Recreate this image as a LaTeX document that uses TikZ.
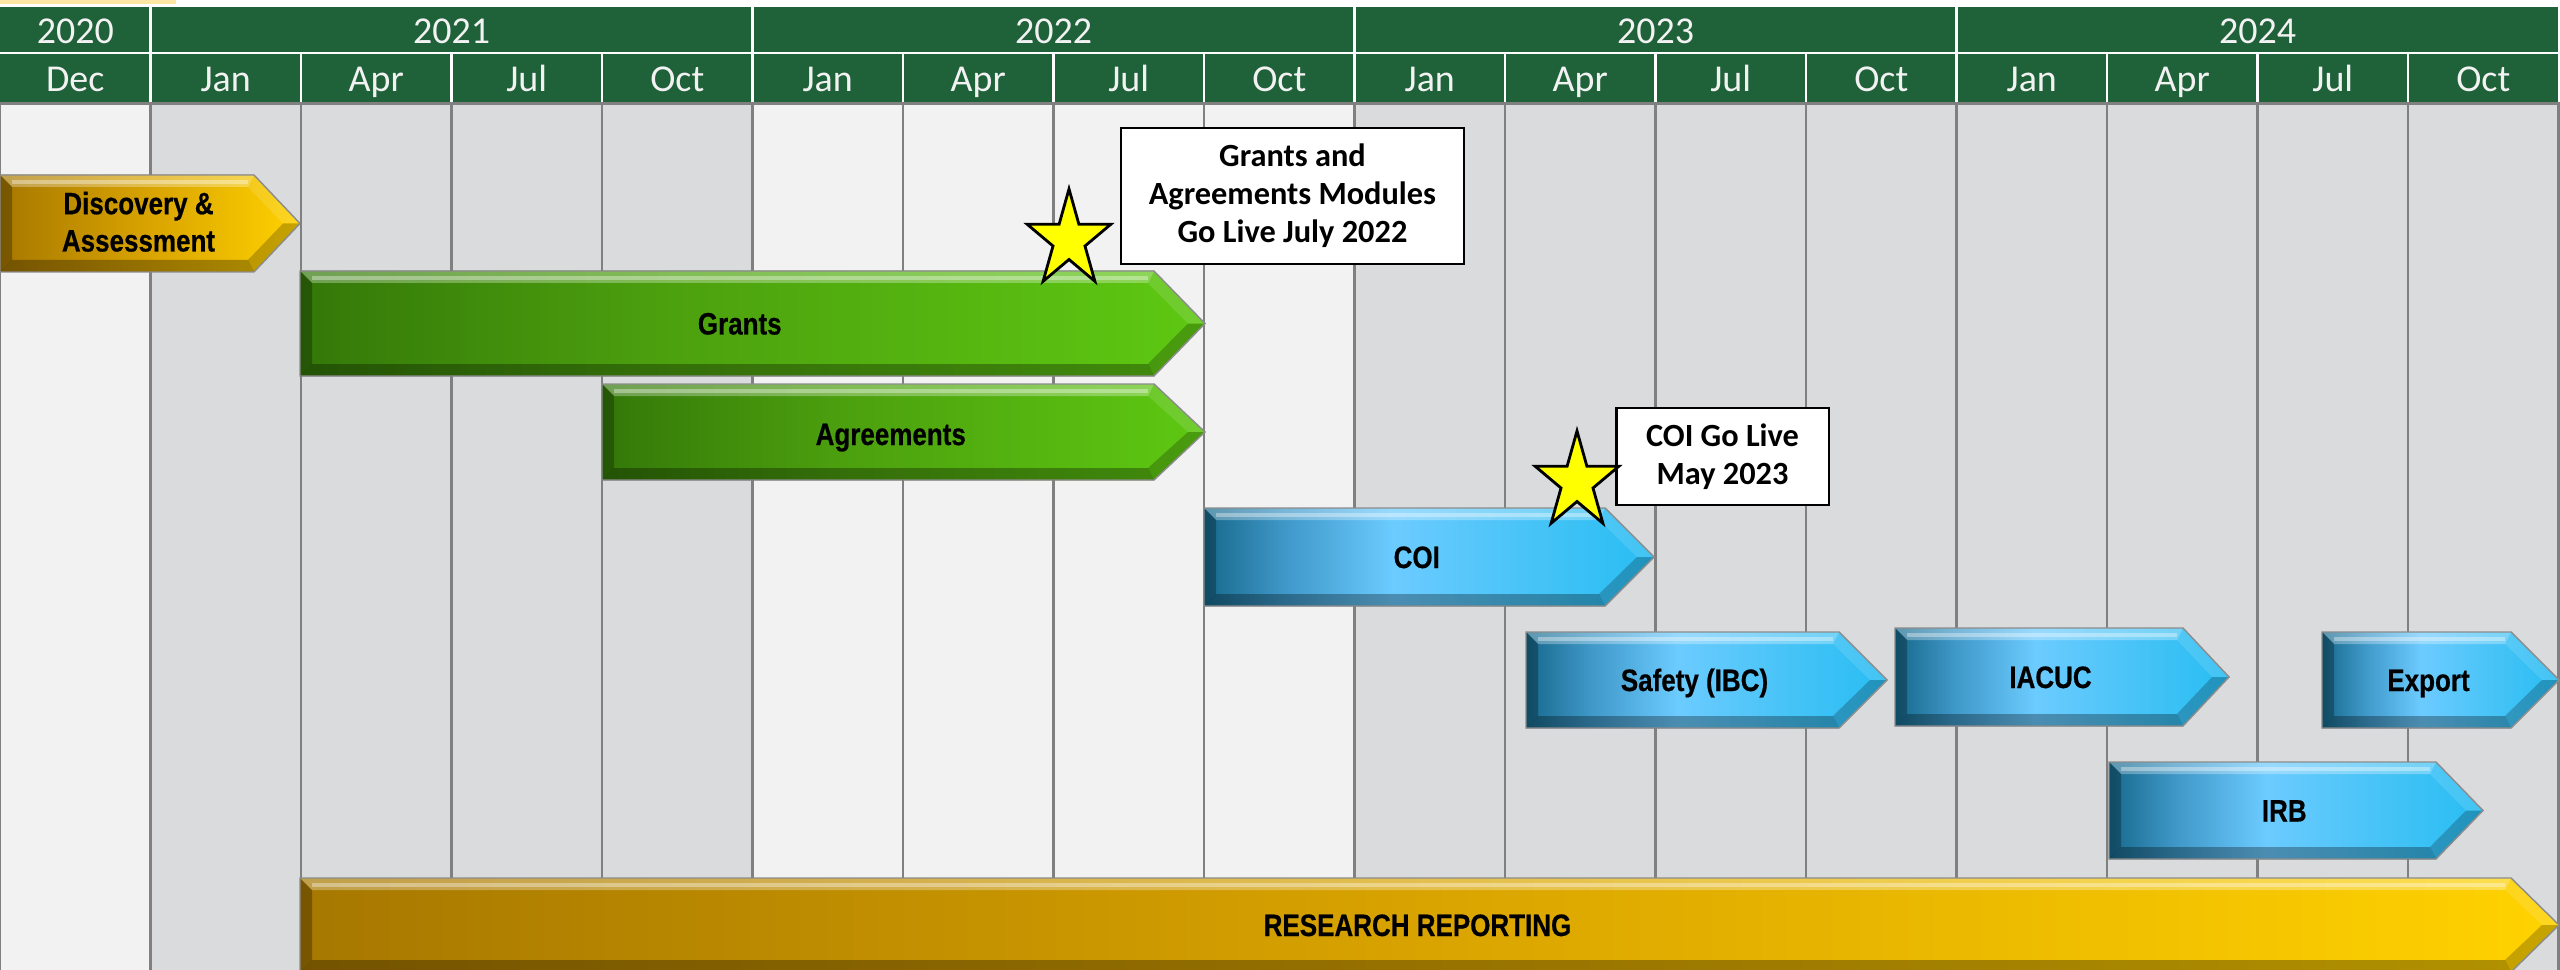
\documentclass[tikz,border=0pt]{standalone}
\usepackage{fontspec}
\setmainfont{Carlito}
\newfontfamily\barfont[FakeStretch=0.84, BoldFeatures={FakeBold=0.5}]{Liberation Sans}
\usetikzlibrary{calc}

\definecolor{hdrgreen}{HTML}{1F6139}
\definecolor{hdrtext}{HTML}{F2F2F2}
\definecolor{collight}{HTML}{F2F2F2}
\definecolor{colgray}{HTML}{DADBDD}
\definecolor{gridline}{HTML}{808080}
\definecolor{topstrip}{HTML}{FCE6A4}
\definecolor{bdark}{HTML}{17698C}
\definecolor{bmid}{HTML}{3F98C8}
\definecolor{blight}{HTML}{6CCBFF}
\definecolor{bmid2}{HTML}{45C3F6}
\definecolor{bright}{HTML}{28BDF3}
\definecolor{gdark}{HTML}{347809}
\definecolor{gmid}{HTML}{4CA00E}
\definecolor{glight}{HTML}{5EC812}
\definecolor{odark}{HTML}{A77800}
\definecolor{omid}{HTML}{D9A400}
\definecolor{olight}{HTML}{FFD200}
\definecolor{starfill}{HTML}{FFFF00}

\pgfdeclarehorizontalshading{blueshade}{100bp}{color(0bp)=(bdark); color(25bp)=(bdark); color(34bp)=(bmid); color(46bp)=(blight); color(62bp)=(bmid2); color(75bp)=(bright); color(100bp)=(bright)}
\pgfdeclarehorizontalshading{greenshade}{100bp}{color(0bp)=(gdark); color(25bp)=(gdark); color(45bp)=(gmid); color(75bp)=(glight); color(100bp)=(glight)}
\pgfdeclarehorizontalshading{goldshade}{100bp}{color(0bp)=(odark); color(25bp)=(odark); color(50bp)=(omid); color(75bp)=(olight); color(100bp)=(olight)}

\tikzset{
  barline/.style={draw=black!45, line width=0.4pt},
  barlabel/.style={font=\barfont\bfseries\fontsize{8.8}{10.6}\selectfont, text=black, align=center, inner sep=0pt, anchor=base},
  hdrlabel/.style={font=\fontsize{10.8}{13}\selectfont, text=hdrtext, inner sep=0pt, anchor=base},
  callout/.style={draw=black, line width=0.6pt, fill=white, align=center, inner sep=0pt,
    font=\bfseries\fontsize{9.2}{10.8}\selectfont},
  starstyle/.style={draw=black, fill=starfill, line width=0.8pt, line join=miter},
  gridrule/.style={draw=gridline, line width=0.8pt},
  hdrsep/.style={draw=white, line width=0.8pt}
}

% #1 x0, #2 body end, #3 tip, #4 top, #5 bottom, #6 shading, #7 name, #8 text, #9 baseline offset
\newcommand\ganttbar[9]{%
  \pgfmathsetmacro\gym{(#4+#5)/2}%
  \pgfmathsetmacro\gxbi{#2-6}%
  \pgfmathsetmacro\gxti{#3-17}%
  \pgfmathsetmacro\gxl{#1+12}%
  \pgfmathsetmacro\gyt{#4+12}%
  \pgfmathsetmacro\gyh{#4+7}%
  \pgfmathsetmacro\gyb{#5-12}%
  \pgfmathsetmacro\gxc{(#1+(#2+#3)/2)/2}%
  \pgfmathsetmacro\gybase{\gym+#9}%
  \fill[shading=#6] (#1,#4) -- (#2,#4) -- (#3,\gym) -- (#2,#5) -- (#1,#5) -- cycle;
  \fill[white,opacity=.30] (#1,#4) -- (#2,#4) -- (\gxbi,\gyt) -- (\gxl,\gyt) -- cycle;
  \draw[white,opacity=.35,line width=1.2pt] (\gxl,\gyh) -- (\gxbi,\gyh);
  \fill[white,opacity=.12] (#2,#4) -- (#3,\gym) -- (\gxti,\gym) -- (\gxbi,\gyt) -- cycle;
  \fill[black,opacity=.22] (#3,\gym) -- (#2,#5) -- (\gxbi,\gyb) -- (\gxti,\gym) -- cycle;
  \fill[black,opacity=.30] (#2,#5) -- (#1,#5) -- (\gxl,\gyb) -- (\gxbi,\gyb) -- cycle;
  \fill[black,opacity=.28] (#1,#5) -- (#1,#4) -- (\gxl,\gyt) -- (\gxl,\gyb) -- cycle;
  \draw[barline] (#1,#4) -- (#2,#4) -- (#3,\gym) -- (#2,#5) -- (#1,#5) -- cycle;
  \node[barlabel] (#7) at (\gxc,\gybase) {#8};
}

\newcommand\milestar[2]{%
  \begin{scope}[shift={(#1,#2)}, x=0.44cm, y=0.51cm]
    \draw[starstyle] (90:1) -- (126:0.382) -- (162:1) -- (198:0.382) -- (234:1)
      -- (270:0.382) -- (306:1) -- (342:0.382) -- (18:1) -- (54:0.382) -- cycle;
  \end{scope}
}

\begin{document}
\begin{tikzpicture}[x=0.01cm, y=-0.01cm]
\useasboundingbox (0,0) rectangle (2560,970);
\clip (0,0) rectangle (2560,970);
\fill[white] (0,0) rectangle (2560,970);
\fill[topstrip] (0,0) rectangle (176,4);

% column backgrounds
\foreach \i in {0,...,16} {
  \pgfmathsetmacro\cx{\i*150.5}
  \pgfmathsetmacro\cxe{(\i+1)*150.5}
  \ifnum\i=0 \def\cc{collight}\else
    \ifnum\i<5 \def\cc{colgray}\else
      \ifnum\i<9 \def\cc{collight}\else \def\cc{colgray}\fi\fi\fi
  \fill[\cc] (\cx,103) rectangle (\cxe,970);
}
\foreach \i in {0,...,17} {
  \pgfmathsetmacro\cx{min(\i*150.5,2558.5)}
  \draw[gridrule] (\cx,103) -- (\cx,970);
}
\draw[gridrule] (0,103.5) -- (2560,103.5);

% header
\fill[hdrgreen] (0,7) rectangle (2558,52);
\fill[hdrgreen] (0,54.5) rectangle (2558,102);
\foreach \i in {1,5,9,13} { \draw[hdrsep] ({\i*150.5},7) -- ({\i*150.5},52); }
\foreach \i in {1,...,16} { \draw[hdrsep] ({\i*150.5},54.5) -- ({\i*150.5},102); }

\node[hdrlabel] (y2020) at (75.25,43.5) {2020};
\node[hdrlabel] (y2021) at (451.5,43.5) {2021};
\node[hdrlabel] (y2022) at (1053.5,43.5) {2022};
\node[hdrlabel] (y2023) at (1655.5,43.5) {2023};
\node[hdrlabel] (y2024) at (2257.5,43.5) {2024};
\foreach \m [count=\k from 0] in {Dec,Jan,Apr,Jul,Oct,Jan,Apr,Jul,Oct,Jan,Apr,Jul,Oct,Jan,Apr,Jul,Oct} {
  \node[hdrlabel] (m\k) at ({\k*150.5+75.25},91.5) {\m};
}

% bars
\ganttbar{0}{254}{300}{175}{272}{goldshade}{disc}{Discovery \&\\Assessment}{28}
\ganttbar{300}{1154}{1205}{271}{376}{greenshade}{grants}{Grants}{11}
\ganttbar{602}{1154}{1205}{384}{480}{greenshade}{agree}{Agreements}{13}
\ganttbar{1204}{1605}{1654}{508}{606}{blueshade}{coi}{COI}{11}
\ganttbar{1526}{1839}{1887}{632}{728}{blueshade}{safety}{Safety (IBC)}{11}
\ganttbar{1895}{2183}{2229}{628}{726}{blueshade}{iacuc}{IACUC}{11}
\ganttbar{2322}{2511}{2559}{632}{728}{blueshade}{export}{Export}{11}
\ganttbar{2109}{2436}{2483}{762}{859}{blueshade}{irb}{IRB}{11}
\ganttbar{300}{2511}{2559}{878}{972}{goldshade}{rr}{RESEARCH REPORTING}{11}

% callouts
\node[callout, minimum width=3.43cm, minimum height=1.36cm] (golive1) at (1292.5,196)
  {Grants and\\Agreements Modules\\Go Live July 2022};
\node[callout, minimum width=2.12cm, minimum height=0.97cm] (golive2) at (1722.5,456.5)
  {COI Go Live\\May 2023};

% stars
\milestar{1069}{240}
\milestar{1577}{482}
\end{tikzpicture}
\end{document}
